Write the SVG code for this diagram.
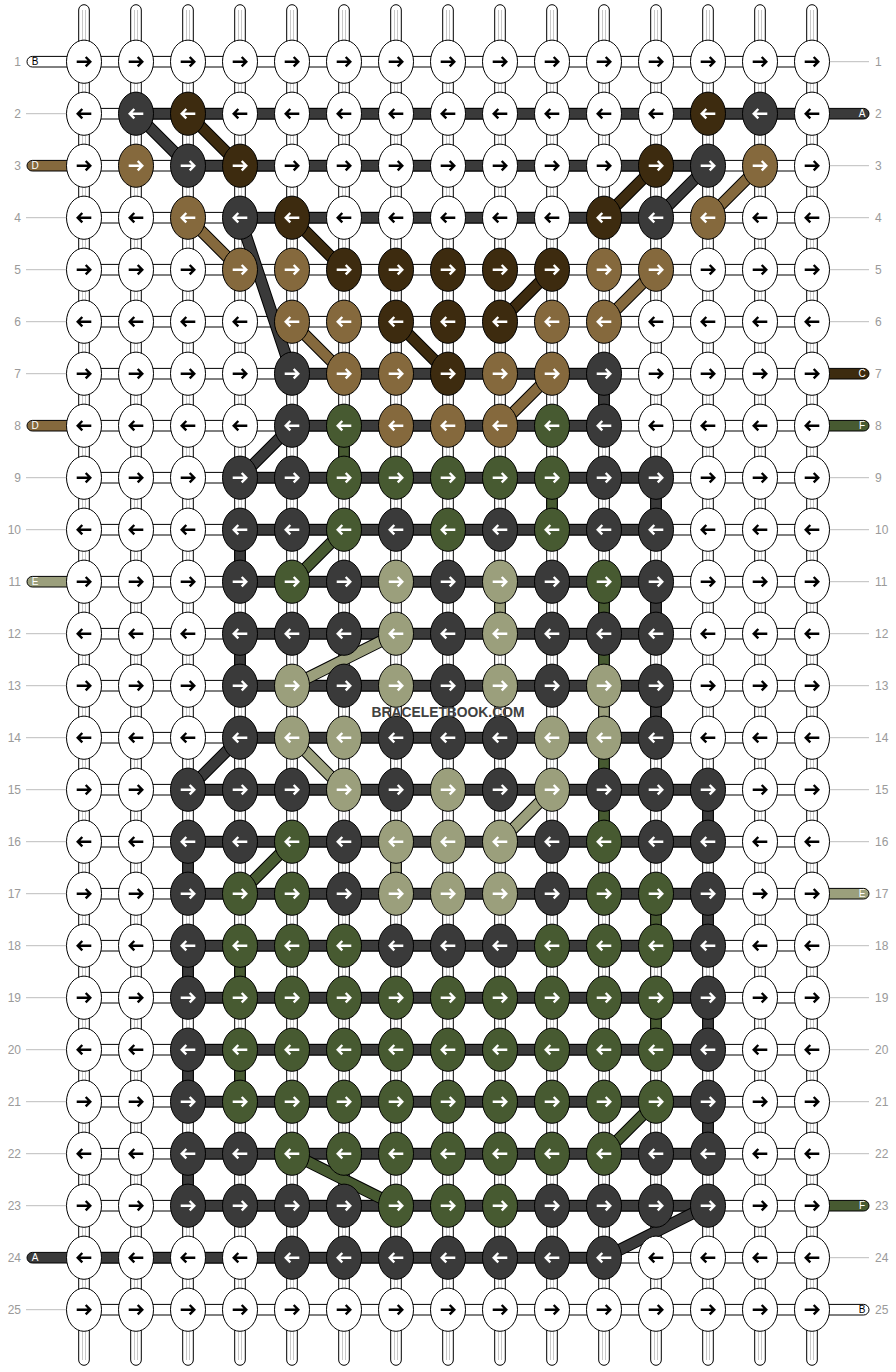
<svg xmlns="http://www.w3.org/2000/svg" xmlns:xlink="http://www.w3.org/1999/xlink" width="896" height="1372" viewBox="0 0 896 1372">
<style>
.e{stroke:#000;stroke-width:1}
.W{fill:#fff}.K{fill:#3a3a3a}.N{fill:#3d2b0f}.T{fill:#85693d}.G{fill:#475a31}.L{fill:#9b9f7c}
.ab{stroke:#000;stroke-width:2.4;fill:none}
.aw{stroke:#fff;stroke-width:2.4;fill:none}
.hw{fill:#fff;stroke:#000;stroke-width:1}
.hk{fill:#3a3a3a;stroke:#000;stroke-width:1}
.dO{stroke:#000;stroke-width:12;fill:none}
.dK{stroke:#3a3a3a;stroke-width:10;fill:none}
.dN{stroke:#3d2b0f;stroke-width:10;fill:none}
.dT{stroke:#85693d;stroke-width:10;fill:none}
.dG{stroke:#475a31;stroke-width:10;fill:none}
.dL{stroke:#9b9f7c;stroke-width:10;fill:none}
.num{font-family:"Liberation Sans",Arial,sans-serif;font-size:12px;fill:#9a9a9a}
.lt{font-family:"Liberation Sans",Arial,sans-serif;font-size:10px;text-anchor:middle}
.gl{stroke:#bdbdbd;stroke-width:1;fill:none}
</style>
<defs>
<path id="ar" d="M-7.3,0H6.3M1.7,-4.7L6.3,0L1.7,4.7"/>
<path id="al" d="M7.3,0H-6.3M-1.7,-4.7L-6.3,0L-1.7,4.7"/>
<g id="vc"><rect x="-5.3" y="4.7" width="10.6" height="1360.6" rx="5.3" fill="#fff" stroke="#000"/><path d="M-1.5,10V1360M1.5,10V1360" stroke="#c8c8c8" fill="none"/></g>
<g id="Wr"><ellipse rx="17.5" ry="21.6" class="e W"/><use href="#ar" class="ab"/></g>
<g id="Wl"><ellipse rx="17.5" ry="21.6" class="e W"/><use href="#al" class="ab"/></g>
<g id="Kr"><ellipse rx="17.5" ry="21.6" class="e K"/><use href="#ar" class="aw"/></g>
<g id="Kl"><ellipse rx="17.5" ry="21.6" class="e K"/><use href="#al" class="aw"/></g>
<g id="Nr"><ellipse rx="17.5" ry="21.6" class="e N"/><use href="#ar" class="aw"/></g>
<g id="Nl"><ellipse rx="17.5" ry="21.6" class="e N"/><use href="#al" class="aw"/></g>
<g id="Tr"><ellipse rx="17.5" ry="21.6" class="e T"/><use href="#ar" class="aw"/></g>
<g id="Tl"><ellipse rx="17.5" ry="21.6" class="e T"/><use href="#al" class="aw"/></g>
<g id="Gr"><ellipse rx="17.5" ry="21.6" class="e G"/><use href="#ar" class="aw"/></g>
<g id="Gl"><ellipse rx="17.5" ry="21.6" class="e G"/><use href="#al" class="aw"/></g>
<g id="Lr"><ellipse rx="17.5" ry="21.6" class="e L"/><use href="#ar" class="aw"/></g>
<g id="Ll"><ellipse rx="17.5" ry="21.6" class="e L"/><use href="#al" class="aw"/></g>
</defs>
<rect width="896" height="1372" fill="#fff"/>
<g id="labels">
<path class="gl" d="M26,113.7H66M26,217.7H66M26,269.7H66M26,321.7H66M26,373.7H66M26,477.7H66M26,529.7H66M26,633.7H66M26,685.7H66M26,737.7H66M26,789.7H66M26,841.7H66M26,893.7H66M26,945.7H66M26,997.7H66M26,1049.7H66M26,1101.7H66M26,1153.7H66M26,1205.7H66M26,1309.7H66"/>
<path class="gl" d="M830,61.7H869M830,165.7H869M830,217.7H869M830,269.7H869M830,321.7H869M830,477.7H869M830,529.7H869M830,581.7H869M830,633.7H869M830,685.7H869M830,737.7H869M830,789.7H869M830,841.7H869M830,945.7H869M830,997.7H869M830,1049.7H869M830,1101.7H869M830,1153.7H869M830,1257.7H869"/>
<g class="num" text-anchor="end">
<text x="21" y="66">1</text><text x="21" y="118">2</text><text x="21" y="170">3</text><text x="21" y="222">4</text><text x="21" y="274">5</text><text x="21" y="326">6</text><text x="21" y="378">7</text><text x="21" y="430">8</text><text x="21" y="482">9</text><text x="21" y="534">10</text><text x="21" y="586">11</text><text x="21" y="638">12</text><text x="21" y="690">13</text><text x="21" y="742">14</text><text x="21" y="794">15</text><text x="21" y="846">16</text><text x="21" y="898">17</text><text x="21" y="950">18</text><text x="21" y="1002">19</text><text x="21" y="1054">20</text><text x="21" y="1106">21</text><text x="21" y="1158">22</text><text x="21" y="1210">23</text><text x="21" y="1262">24</text><text x="21" y="1314">25</text>
</g>
<g class="num">
<text x="875" y="66">1</text><text x="875" y="118">2</text><text x="875" y="170">3</text><text x="875" y="222">4</text><text x="875" y="274">5</text><text x="875" y="326">6</text><text x="875" y="378">7</text><text x="875" y="430">8</text><text x="875" y="482">9</text><text x="875" y="534">10</text><text x="875" y="586">11</text><text x="875" y="638">12</text><text x="875" y="690">13</text><text x="875" y="742">14</text><text x="875" y="794">15</text><text x="875" y="846">16</text><text x="875" y="898">17</text><text x="875" y="950">18</text><text x="875" y="1002">19</text><text x="875" y="1054">20</text><text x="875" y="1106">21</text><text x="875" y="1158">22</text><text x="875" y="1210">23</text><text x="875" y="1262">24</text><text x="875" y="1314">25</text>
</g>
</g>
<g id="connectors">
<g id="verticals">
<use href="#vc" x="84"/><use href="#vc" x="136"/><use href="#vc" x="188"/><use href="#vc" x="240"/><use href="#vc" x="292"/><use href="#vc" x="344"/><use href="#vc" x="396"/><use href="#vc" x="448"/><use href="#vc" x="500"/><use href="#vc" x="552"/><use href="#vc" x="604"/><use href="#vc" x="656"/><use href="#vc" x="708"/><use href="#vc" x="760"/><use href="#vc" x="812"/>
</g>
<g id="stubs">
<rect x="27" y="56.4" width="60" height="10.6" rx="5.3" class="e W"/>
<rect x="27" y="160.4" width="60" height="10.6" rx="5.3" class="e T"/>
<rect x="27" y="420.4" width="60" height="10.6" rx="5.3" class="e T"/>
<rect x="27" y="576.4" width="60" height="10.6" rx="5.3" class="e L"/>
<rect x="27" y="1252.4" width="60" height="10.6" rx="5.3" class="e K"/>
<rect x="809" y="108.4" width="60" height="10.6" rx="5.3" class="e K"/>
<rect x="809" y="368.4" width="60" height="10.6" rx="5.3" class="e N"/>
<rect x="809" y="420.4" width="60" height="10.6" rx="5.3" class="e G"/>
<rect x="809" y="888.4" width="60" height="10.6" rx="5.3" class="e L"/>
<rect x="809" y="1200.4" width="60" height="10.6" rx="5.3" class="e G"/>
<rect x="809" y="1304.4" width="60" height="10.6" rx="5.3" class="e W"/>
<text class="lt" x="35" y="65.3" fill="#000">B</text>
<text class="lt" x="35" y="169.3" fill="#fff">D</text>
<text class="lt" x="35" y="429.3" fill="#fff">D</text>
<text class="lt" x="35" y="585.3" fill="#fff">E</text>
<text class="lt" x="35" y="1261.3" fill="#fff">A</text>
<text class="lt" x="862" y="117.3" fill="#fff">A</text>
<text class="lt" x="862" y="377.3" fill="#fff">C</text>
<text class="lt" x="862" y="429.3" fill="#fff">F</text>
<text class="lt" x="862" y="897.3" fill="#fff">E</text>
<text class="lt" x="862" y="1209.3" fill="#fff">F</text>
<text class="lt" x="862" y="1313.3" fill="#000">B</text>
</g>
<path id="horiz-white" class="hw" d="M84,56.4h728v10.6h-728zM84,108.4h728v10.6h-728zM84,160.4h728v10.6h-728zM84,212.4h728v10.6h-728zM84,264.4h728v10.6h-728zM84,316.4h728v10.6h-728zM84,368.4h728v10.6h-728zM84,420.4h728v10.6h-728zM84,472.4h728v10.6h-728zM84,524.4h728v10.6h-728zM84,576.4h728v10.6h-728zM84,628.4h728v10.6h-728zM84,680.4h728v10.6h-728zM84,732.4h728v10.6h-728zM84,784.4h728v10.6h-728zM84,836.4h728v10.6h-728zM84,888.4h728v10.6h-728zM84,940.4h728v10.6h-728zM84,992.4h728v10.6h-728zM84,1044.4h728v10.6h-728zM84,1096.4h728v10.6h-728zM84,1148.4h728v10.6h-728zM84,1200.4h728v10.6h-728zM84,1252.4h728v10.6h-728zM84,1304.4h728v10.6h-728z"/>
<path id="horiz-dark" class="hk" d="M136,108.4h676v10.6h-676zM188,160.4h520v10.6h-520zM240,212.4h416v10.6h-416zM292,368.4h312v10.6h-312zM292,420.4h312v10.6h-312zM240,472.4h416v10.6h-416zM240,524.4h416v10.6h-416zM240,576.4h416v10.6h-416zM240,628.4h416v10.6h-416zM240,680.4h416v10.6h-416zM240,732.4h416v10.6h-416zM188,784.4h520v10.6h-520zM188,836.4h520v10.6h-520zM188,888.4h520v10.6h-520zM188,940.4h520v10.6h-520zM188,992.4h520v10.6h-520zM188,1044.4h520v10.6h-520zM188,1096.4h520v10.6h-520zM188,1148.4h520v10.6h-520zM188,1200.4h520v10.6h-520zM84,1252.4h520v10.6h-520z"/>
<path id="vert-dark" class="e K" d="M598.7,385.7h10.6v28h-10.6zM650.7,489.7h10.6v28h-10.6zM234.7,541.7h10.6v28h-10.6zM650.7,593.7h10.6v28h-10.6zM234.7,645.7h10.6v28h-10.6zM650.7,697.7h10.6v28h-10.6zM702.7,801.7h10.6v28h-10.6zM182.7,853.7h10.6v28h-10.6zM702.7,905.7h10.6v28h-10.6zM182.7,957.7h10.6v28h-10.6zM702.7,1009.7h10.6v28h-10.6zM182.7,1061.7h10.6v28h-10.6zM702.7,1113.7h10.6v28h-10.6zM182.7,1165.7h10.6v28h-10.6z"/>
<path id="vert-green" class="e G" d="M338.7,437.7h10.6v28h-10.6zM546.7,489.7h10.6v28h-10.6zM598.7,593.7h10.6v28h-10.6zM598.7,645.7h10.6v28h-10.6zM598.7,749.7h10.6v28h-10.6zM598.7,801.7h10.6v28h-10.6zM650.7,905.7h10.6v28h-10.6zM234.7,957.7h10.6v28h-10.6zM650.7,1009.7h10.6v28h-10.6zM234.7,1061.7h10.6v28h-10.6z"/>
<path id="vert-olive" class="e L" d="M494.7,593.7h10.6v28h-10.6zM598.7,697.7h10.6v28h-10.6zM390.7,853.7h10.6v28h-10.6z"/>
<g id="diagonals">
<path class="dO" d="M136,113.7L188,165.7M708,165.7L656,217.7M240,217.7L292,373.7M292,425.7L240,477.7M240,737.7L188,789.7M604,1257.7L708,1205.7M188,113.7L240,165.7M656,165.7L604,217.7M292,217.7L344,269.7M396,321.7L448,373.7M552,269.7L500,321.7M760,165.7L708,217.7M188,217.7L240,269.7M292,321.7L344,373.7M656,269.7L604,321.7M552,373.7L500,425.7M344,529.7L292,581.7M292,841.7L240,893.7M656,1101.7L604,1153.7M292,1153.7L396,1205.7M396,633.7L292,685.7M292,737.7L344,789.7M552,789.7L500,841.7"/>
<path class="dK" d="M136,113.7L188,165.7M708,165.7L656,217.7M240,217.7L292,373.7M292,425.7L240,477.7M240,737.7L188,789.7M604,1257.7L708,1205.7"/>
<path class="dN" d="M188,113.7L240,165.7M656,165.7L604,217.7M292,217.7L344,269.7M396,321.7L448,373.7M552,269.7L500,321.7"/>
<path class="dT" d="M760,165.7L708,217.7M188,217.7L240,269.7M292,321.7L344,373.7M656,269.7L604,321.7M552,373.7L500,425.7"/>
<path class="dG" d="M344,529.7L292,581.7M292,841.7L240,893.7M656,1101.7L604,1153.7M292,1153.7L396,1205.7"/>
<path class="dL" d="M396,633.7L292,685.7M292,737.7L344,789.7M552,789.7L500,841.7"/>
</g>
</g>
<g id="nodes">
<g id="row1" transform="translate(0,61.7)">
<g id="r1c1"><use href="#Wr" x="84"/></g><g id="r1c2"><use href="#Wr" x="136"/></g><g id="r1c3"><use href="#Wr" x="188"/></g><g id="r1c4"><use href="#Wr" x="240"/></g><g id="r1c5"><use href="#Wr" x="292"/></g><g id="r1c6"><use href="#Wr" x="344"/></g><g id="r1c7"><use href="#Wr" x="396"/></g><g id="r1c8"><use href="#Wr" x="448"/></g><g id="r1c9"><use href="#Wr" x="500"/></g><g id="r1c10"><use href="#Wr" x="552"/></g><g id="r1c11"><use href="#Wr" x="604"/></g><g id="r1c12"><use href="#Wr" x="656"/></g><g id="r1c13"><use href="#Wr" x="708"/></g><g id="r1c14"><use href="#Wr" x="760"/></g><g id="r1c15"><use href="#Wr" x="812"/></g>
</g>
<g id="row2" transform="translate(0,113.7)">
<g id="r2c1"><use href="#Wl" x="84"/></g><g id="r2c2"><use href="#Kl" x="136"/></g><g id="r2c3"><use href="#Nl" x="188"/></g><g id="r2c4"><use href="#Wl" x="240"/></g><g id="r2c5"><use href="#Wl" x="292"/></g><g id="r2c6"><use href="#Wl" x="344"/></g><g id="r2c7"><use href="#Wl" x="396"/></g><g id="r2c8"><use href="#Wl" x="448"/></g><g id="r2c9"><use href="#Wl" x="500"/></g><g id="r2c10"><use href="#Wl" x="552"/></g><g id="r2c11"><use href="#Wl" x="604"/></g><g id="r2c12"><use href="#Wl" x="656"/></g><g id="r2c13"><use href="#Nl" x="708"/></g><g id="r2c14"><use href="#Kl" x="760"/></g><g id="r2c15"><use href="#Wl" x="812"/></g>
</g>
<g id="row3" transform="translate(0,165.7)">
<g id="r3c1"><use href="#Wr" x="84"/></g><g id="r3c2"><use href="#Tr" x="136"/></g><g id="r3c3"><use href="#Kr" x="188"/></g><g id="r3c4"><use href="#Nr" x="240"/></g><g id="r3c5"><use href="#Wr" x="292"/></g><g id="r3c6"><use href="#Wr" x="344"/></g><g id="r3c7"><use href="#Wr" x="396"/></g><g id="r3c8"><use href="#Wr" x="448"/></g><g id="r3c9"><use href="#Wr" x="500"/></g><g id="r3c10"><use href="#Wr" x="552"/></g><g id="r3c11"><use href="#Wr" x="604"/></g><g id="r3c12"><use href="#Nr" x="656"/></g><g id="r3c13"><use href="#Kr" x="708"/></g><g id="r3c14"><use href="#Tr" x="760"/></g><g id="r3c15"><use href="#Wr" x="812"/></g>
</g>
<g id="row4" transform="translate(0,217.7)">
<g id="r4c1"><use href="#Wl" x="84"/></g><g id="r4c2"><use href="#Wl" x="136"/></g><g id="r4c3"><use href="#Tl" x="188"/></g><g id="r4c4"><use href="#Kl" x="240"/></g><g id="r4c5"><use href="#Nl" x="292"/></g><g id="r4c6"><use href="#Wl" x="344"/></g><g id="r4c7"><use href="#Wl" x="396"/></g><g id="r4c8"><use href="#Wl" x="448"/></g><g id="r4c9"><use href="#Wl" x="500"/></g><g id="r4c10"><use href="#Wl" x="552"/></g><g id="r4c11"><use href="#Nl" x="604"/></g><g id="r4c12"><use href="#Kl" x="656"/></g><g id="r4c13"><use href="#Tl" x="708"/></g><g id="r4c14"><use href="#Wl" x="760"/></g><g id="r4c15"><use href="#Wl" x="812"/></g>
</g>
<g id="row5" transform="translate(0,269.7)">
<g id="r5c1"><use href="#Wr" x="84"/></g><g id="r5c2"><use href="#Wr" x="136"/></g><g id="r5c3"><use href="#Wr" x="188"/></g><g id="r5c4"><use href="#Tr" x="240"/></g><g id="r5c5"><use href="#Tr" x="292"/></g><g id="r5c6"><use href="#Nr" x="344"/></g><g id="r5c7"><use href="#Nr" x="396"/></g><g id="r5c8"><use href="#Nr" x="448"/></g><g id="r5c9"><use href="#Nr" x="500"/></g><g id="r5c10"><use href="#Nr" x="552"/></g><g id="r5c11"><use href="#Tr" x="604"/></g><g id="r5c12"><use href="#Tr" x="656"/></g><g id="r5c13"><use href="#Wr" x="708"/></g><g id="r5c14"><use href="#Wr" x="760"/></g><g id="r5c15"><use href="#Wr" x="812"/></g>
</g>
<g id="row6" transform="translate(0,321.7)">
<g id="r6c1"><use href="#Wl" x="84"/></g><g id="r6c2"><use href="#Wl" x="136"/></g><g id="r6c3"><use href="#Wl" x="188"/></g><g id="r6c4"><use href="#Wl" x="240"/></g><g id="r6c5"><use href="#Tl" x="292"/></g><g id="r6c6"><use href="#Tl" x="344"/></g><g id="r6c7"><use href="#Nl" x="396"/></g><g id="r6c8"><use href="#Nl" x="448"/></g><g id="r6c9"><use href="#Nl" x="500"/></g><g id="r6c10"><use href="#Tl" x="552"/></g><g id="r6c11"><use href="#Tl" x="604"/></g><g id="r6c12"><use href="#Wl" x="656"/></g><g id="r6c13"><use href="#Wl" x="708"/></g><g id="r6c14"><use href="#Wl" x="760"/></g><g id="r6c15"><use href="#Wl" x="812"/></g>
</g>
<g id="row7" transform="translate(0,373.7)">
<g id="r7c1"><use href="#Wr" x="84"/></g><g id="r7c2"><use href="#Wr" x="136"/></g><g id="r7c3"><use href="#Wr" x="188"/></g><g id="r7c4"><use href="#Wr" x="240"/></g><g id="r7c5"><use href="#Kr" x="292"/></g><g id="r7c6"><use href="#Tr" x="344"/></g><g id="r7c7"><use href="#Tr" x="396"/></g><g id="r7c8"><use href="#Nr" x="448"/></g><g id="r7c9"><use href="#Tr" x="500"/></g><g id="r7c10"><use href="#Tr" x="552"/></g><g id="r7c11"><use href="#Kr" x="604"/></g><g id="r7c12"><use href="#Wr" x="656"/></g><g id="r7c13"><use href="#Wr" x="708"/></g><g id="r7c14"><use href="#Wr" x="760"/></g><g id="r7c15"><use href="#Wr" x="812"/></g>
</g>
<g id="row8" transform="translate(0,425.7)">
<g id="r8c1"><use href="#Wl" x="84"/></g><g id="r8c2"><use href="#Wl" x="136"/></g><g id="r8c3"><use href="#Wl" x="188"/></g><g id="r8c4"><use href="#Wl" x="240"/></g><g id="r8c5"><use href="#Kl" x="292"/></g><g id="r8c6"><use href="#Gl" x="344"/></g><g id="r8c7"><use href="#Tl" x="396"/></g><g id="r8c8"><use href="#Tl" x="448"/></g><g id="r8c9"><use href="#Tl" x="500"/></g><g id="r8c10"><use href="#Gl" x="552"/></g><g id="r8c11"><use href="#Kl" x="604"/></g><g id="r8c12"><use href="#Wl" x="656"/></g><g id="r8c13"><use href="#Wl" x="708"/></g><g id="r8c14"><use href="#Wl" x="760"/></g><g id="r8c15"><use href="#Wl" x="812"/></g>
</g>
<g id="row9" transform="translate(0,477.7)">
<g id="r9c1"><use href="#Wr" x="84"/></g><g id="r9c2"><use href="#Wr" x="136"/></g><g id="r9c3"><use href="#Wr" x="188"/></g><g id="r9c4"><use href="#Kr" x="240"/></g><g id="r9c5"><use href="#Kr" x="292"/></g><g id="r9c6"><use href="#Gr" x="344"/></g><g id="r9c7"><use href="#Gr" x="396"/></g><g id="r9c8"><use href="#Gr" x="448"/></g><g id="r9c9"><use href="#Gr" x="500"/></g><g id="r9c10"><use href="#Gr" x="552"/></g><g id="r9c11"><use href="#Kr" x="604"/></g><g id="r9c12"><use href="#Kr" x="656"/></g><g id="r9c13"><use href="#Wr" x="708"/></g><g id="r9c14"><use href="#Wr" x="760"/></g><g id="r9c15"><use href="#Wr" x="812"/></g>
</g>
<g id="row10" transform="translate(0,529.7)">
<g id="r10c1"><use href="#Wl" x="84"/></g><g id="r10c2"><use href="#Wl" x="136"/></g><g id="r10c3"><use href="#Wl" x="188"/></g><g id="r10c4"><use href="#Kl" x="240"/></g><g id="r10c5"><use href="#Kl" x="292"/></g><g id="r10c6"><use href="#Gl" x="344"/></g><g id="r10c7"><use href="#Kl" x="396"/></g><g id="r10c8"><use href="#Gl" x="448"/></g><g id="r10c9"><use href="#Kl" x="500"/></g><g id="r10c10"><use href="#Gl" x="552"/></g><g id="r10c11"><use href="#Kl" x="604"/></g><g id="r10c12"><use href="#Kl" x="656"/></g><g id="r10c13"><use href="#Wl" x="708"/></g><g id="r10c14"><use href="#Wl" x="760"/></g><g id="r10c15"><use href="#Wl" x="812"/></g>
</g>
<g id="row11" transform="translate(0,581.7)">
<g id="r11c1"><use href="#Wr" x="84"/></g><g id="r11c2"><use href="#Wr" x="136"/></g><g id="r11c3"><use href="#Wr" x="188"/></g><g id="r11c4"><use href="#Kr" x="240"/></g><g id="r11c5"><use href="#Gr" x="292"/></g><g id="r11c6"><use href="#Kr" x="344"/></g><g id="r11c7"><use href="#Lr" x="396"/></g><g id="r11c8"><use href="#Kr" x="448"/></g><g id="r11c9"><use href="#Lr" x="500"/></g><g id="r11c10"><use href="#Kr" x="552"/></g><g id="r11c11"><use href="#Gr" x="604"/></g><g id="r11c12"><use href="#Kr" x="656"/></g><g id="r11c13"><use href="#Wr" x="708"/></g><g id="r11c14"><use href="#Wr" x="760"/></g><g id="r11c15"><use href="#Wr" x="812"/></g>
</g>
<g id="row12" transform="translate(0,633.7)">
<g id="r12c1"><use href="#Wl" x="84"/></g><g id="r12c2"><use href="#Wl" x="136"/></g><g id="r12c3"><use href="#Wl" x="188"/></g><g id="r12c4"><use href="#Kl" x="240"/></g><g id="r12c5"><use href="#Kl" x="292"/></g><g id="r12c6"><use href="#Kl" x="344"/></g><g id="r12c7"><use href="#Ll" x="396"/></g><g id="r12c8"><use href="#Kl" x="448"/></g><g id="r12c9"><use href="#Ll" x="500"/></g><g id="r12c10"><use href="#Kl" x="552"/></g><g id="r12c11"><use href="#Kl" x="604"/></g><g id="r12c12"><use href="#Kl" x="656"/></g><g id="r12c13"><use href="#Wl" x="708"/></g><g id="r12c14"><use href="#Wl" x="760"/></g><g id="r12c15"><use href="#Wl" x="812"/></g>
</g>
<g id="row13" transform="translate(0,685.7)">
<g id="r13c1"><use href="#Wr" x="84"/></g><g id="r13c2"><use href="#Wr" x="136"/></g><g id="r13c3"><use href="#Wr" x="188"/></g><g id="r13c4"><use href="#Kr" x="240"/></g><g id="r13c5"><use href="#Lr" x="292"/></g><g id="r13c6"><use href="#Kr" x="344"/></g><g id="r13c7"><use href="#Lr" x="396"/></g><g id="r13c8"><use href="#Kr" x="448"/></g><g id="r13c9"><use href="#Lr" x="500"/></g><g id="r13c10"><use href="#Kr" x="552"/></g><g id="r13c11"><use href="#Lr" x="604"/></g><g id="r13c12"><use href="#Kr" x="656"/></g><g id="r13c13"><use href="#Wr" x="708"/></g><g id="r13c14"><use href="#Wr" x="760"/></g><g id="r13c15"><use href="#Wr" x="812"/></g>
</g>
<g id="row14" transform="translate(0,737.7)">
<g id="r14c1"><use href="#Wl" x="84"/></g><g id="r14c2"><use href="#Wl" x="136"/></g><g id="r14c3"><use href="#Wl" x="188"/></g><g id="r14c4"><use href="#Kl" x="240"/></g><g id="r14c5"><use href="#Ll" x="292"/></g><g id="r14c6"><use href="#Ll" x="344"/></g><g id="r14c7"><use href="#Kl" x="396"/></g><g id="r14c8"><use href="#Kl" x="448"/></g><g id="r14c9"><use href="#Kl" x="500"/></g><g id="r14c10"><use href="#Ll" x="552"/></g><g id="r14c11"><use href="#Ll" x="604"/></g><g id="r14c12"><use href="#Kl" x="656"/></g><g id="r14c13"><use href="#Wl" x="708"/></g><g id="r14c14"><use href="#Wl" x="760"/></g><g id="r14c15"><use href="#Wl" x="812"/></g>
</g>
<g id="row15" transform="translate(0,789.7)">
<g id="r15c1"><use href="#Wr" x="84"/></g><g id="r15c2"><use href="#Wr" x="136"/></g><g id="r15c3"><use href="#Kr" x="188"/></g><g id="r15c4"><use href="#Kr" x="240"/></g><g id="r15c5"><use href="#Kr" x="292"/></g><g id="r15c6"><use href="#Lr" x="344"/></g><g id="r15c7"><use href="#Kr" x="396"/></g><g id="r15c8"><use href="#Lr" x="448"/></g><g id="r15c9"><use href="#Kr" x="500"/></g><g id="r15c10"><use href="#Lr" x="552"/></g><g id="r15c11"><use href="#Kr" x="604"/></g><g id="r15c12"><use href="#Kr" x="656"/></g><g id="r15c13"><use href="#Kr" x="708"/></g><g id="r15c14"><use href="#Wr" x="760"/></g><g id="r15c15"><use href="#Wr" x="812"/></g>
</g>
<g id="row16" transform="translate(0,841.7)">
<g id="r16c1"><use href="#Wl" x="84"/></g><g id="r16c2"><use href="#Wl" x="136"/></g><g id="r16c3"><use href="#Kl" x="188"/></g><g id="r16c4"><use href="#Kl" x="240"/></g><g id="r16c5"><use href="#Gl" x="292"/></g><g id="r16c6"><use href="#Kl" x="344"/></g><g id="r16c7"><use href="#Ll" x="396"/></g><g id="r16c8"><use href="#Ll" x="448"/></g><g id="r16c9"><use href="#Ll" x="500"/></g><g id="r16c10"><use href="#Kl" x="552"/></g><g id="r16c11"><use href="#Gl" x="604"/></g><g id="r16c12"><use href="#Kl" x="656"/></g><g id="r16c13"><use href="#Kl" x="708"/></g><g id="r16c14"><use href="#Wl" x="760"/></g><g id="r16c15"><use href="#Wl" x="812"/></g>
</g>
<g id="row17" transform="translate(0,893.7)">
<g id="r17c1"><use href="#Wr" x="84"/></g><g id="r17c2"><use href="#Wr" x="136"/></g><g id="r17c3"><use href="#Kr" x="188"/></g><g id="r17c4"><use href="#Gr" x="240"/></g><g id="r17c5"><use href="#Gr" x="292"/></g><g id="r17c6"><use href="#Kr" x="344"/></g><g id="r17c7"><use href="#Lr" x="396"/></g><g id="r17c8"><use href="#Lr" x="448"/></g><g id="r17c9"><use href="#Lr" x="500"/></g><g id="r17c10"><use href="#Kr" x="552"/></g><g id="r17c11"><use href="#Gr" x="604"/></g><g id="r17c12"><use href="#Gr" x="656"/></g><g id="r17c13"><use href="#Kr" x="708"/></g><g id="r17c14"><use href="#Wr" x="760"/></g><g id="r17c15"><use href="#Wr" x="812"/></g>
</g>
<g id="row18" transform="translate(0,945.7)">
<g id="r18c1"><use href="#Wl" x="84"/></g><g id="r18c2"><use href="#Wl" x="136"/></g><g id="r18c3"><use href="#Kl" x="188"/></g><g id="r18c4"><use href="#Gl" x="240"/></g><g id="r18c5"><use href="#Gl" x="292"/></g><g id="r18c6"><use href="#Gl" x="344"/></g><g id="r18c7"><use href="#Kl" x="396"/></g><g id="r18c8"><use href="#Kl" x="448"/></g><g id="r18c9"><use href="#Kl" x="500"/></g><g id="r18c10"><use href="#Gl" x="552"/></g><g id="r18c11"><use href="#Gl" x="604"/></g><g id="r18c12"><use href="#Gl" x="656"/></g><g id="r18c13"><use href="#Kl" x="708"/></g><g id="r18c14"><use href="#Wl" x="760"/></g><g id="r18c15"><use href="#Wl" x="812"/></g>
</g>
<g id="row19" transform="translate(0,997.7)">
<g id="r19c1"><use href="#Wr" x="84"/></g><g id="r19c2"><use href="#Wr" x="136"/></g><g id="r19c3"><use href="#Kr" x="188"/></g><g id="r19c4"><use href="#Gr" x="240"/></g><g id="r19c5"><use href="#Gr" x="292"/></g><g id="r19c6"><use href="#Gr" x="344"/></g><g id="r19c7"><use href="#Gr" x="396"/></g><g id="r19c8"><use href="#Gr" x="448"/></g><g id="r19c9"><use href="#Gr" x="500"/></g><g id="r19c10"><use href="#Gr" x="552"/></g><g id="r19c11"><use href="#Gr" x="604"/></g><g id="r19c12"><use href="#Gr" x="656"/></g><g id="r19c13"><use href="#Kr" x="708"/></g><g id="r19c14"><use href="#Wr" x="760"/></g><g id="r19c15"><use href="#Wr" x="812"/></g>
</g>
<g id="row20" transform="translate(0,1049.7)">
<g id="r20c1"><use href="#Wl" x="84"/></g><g id="r20c2"><use href="#Wl" x="136"/></g><g id="r20c3"><use href="#Kl" x="188"/></g><g id="r20c4"><use href="#Gl" x="240"/></g><g id="r20c5"><use href="#Gl" x="292"/></g><g id="r20c6"><use href="#Gl" x="344"/></g><g id="r20c7"><use href="#Gl" x="396"/></g><g id="r20c8"><use href="#Gl" x="448"/></g><g id="r20c9"><use href="#Gl" x="500"/></g><g id="r20c10"><use href="#Gl" x="552"/></g><g id="r20c11"><use href="#Gl" x="604"/></g><g id="r20c12"><use href="#Gl" x="656"/></g><g id="r20c13"><use href="#Kl" x="708"/></g><g id="r20c14"><use href="#Wl" x="760"/></g><g id="r20c15"><use href="#Wl" x="812"/></g>
</g>
<g id="row21" transform="translate(0,1101.7)">
<g id="r21c1"><use href="#Wr" x="84"/></g><g id="r21c2"><use href="#Wr" x="136"/></g><g id="r21c3"><use href="#Kr" x="188"/></g><g id="r21c4"><use href="#Gr" x="240"/></g><g id="r21c5"><use href="#Gr" x="292"/></g><g id="r21c6"><use href="#Gr" x="344"/></g><g id="r21c7"><use href="#Gr" x="396"/></g><g id="r21c8"><use href="#Gr" x="448"/></g><g id="r21c9"><use href="#Gr" x="500"/></g><g id="r21c10"><use href="#Gr" x="552"/></g><g id="r21c11"><use href="#Gr" x="604"/></g><g id="r21c12"><use href="#Gr" x="656"/></g><g id="r21c13"><use href="#Kr" x="708"/></g><g id="r21c14"><use href="#Wr" x="760"/></g><g id="r21c15"><use href="#Wr" x="812"/></g>
</g>
<g id="row22" transform="translate(0,1153.7)">
<g id="r22c1"><use href="#Wl" x="84"/></g><g id="r22c2"><use href="#Wl" x="136"/></g><g id="r22c3"><use href="#Kl" x="188"/></g><g id="r22c4"><use href="#Kl" x="240"/></g><g id="r22c5"><use href="#Gl" x="292"/></g><g id="r22c6"><use href="#Gl" x="344"/></g><g id="r22c7"><use href="#Gl" x="396"/></g><g id="r22c8"><use href="#Gl" x="448"/></g><g id="r22c9"><use href="#Gl" x="500"/></g><g id="r22c10"><use href="#Gl" x="552"/></g><g id="r22c11"><use href="#Gl" x="604"/></g><g id="r22c12"><use href="#Kl" x="656"/></g><g id="r22c13"><use href="#Kl" x="708"/></g><g id="r22c14"><use href="#Wl" x="760"/></g><g id="r22c15"><use href="#Wl" x="812"/></g>
</g>
<g id="row23" transform="translate(0,1205.7)">
<g id="r23c1"><use href="#Wr" x="84"/></g><g id="r23c2"><use href="#Wr" x="136"/></g><g id="r23c3"><use href="#Kr" x="188"/></g><g id="r23c4"><use href="#Kr" x="240"/></g><g id="r23c5"><use href="#Kr" x="292"/></g><g id="r23c6"><use href="#Kr" x="344"/></g><g id="r23c7"><use href="#Gr" x="396"/></g><g id="r23c8"><use href="#Gr" x="448"/></g><g id="r23c9"><use href="#Gr" x="500"/></g><g id="r23c10"><use href="#Kr" x="552"/></g><g id="r23c11"><use href="#Kr" x="604"/></g><g id="r23c12"><use href="#Kr" x="656"/></g><g id="r23c13"><use href="#Kr" x="708"/></g><g id="r23c14"><use href="#Wr" x="760"/></g><g id="r23c15"><use href="#Wr" x="812"/></g>
</g>
<g id="row24" transform="translate(0,1257.7)">
<g id="r24c1"><use href="#Wl" x="84"/></g><g id="r24c2"><use href="#Wl" x="136"/></g><g id="r24c3"><use href="#Wl" x="188"/></g><g id="r24c4"><use href="#Wl" x="240"/></g><g id="r24c5"><use href="#Kl" x="292"/></g><g id="r24c6"><use href="#Kl" x="344"/></g><g id="r24c7"><use href="#Kl" x="396"/></g><g id="r24c8"><use href="#Kl" x="448"/></g><g id="r24c9"><use href="#Kl" x="500"/></g><g id="r24c10"><use href="#Kl" x="552"/></g><g id="r24c11"><use href="#Kl" x="604"/></g><g id="r24c12"><use href="#Wl" x="656"/></g><g id="r24c13"><use href="#Wl" x="708"/></g><g id="r24c14"><use href="#Wl" x="760"/></g><g id="r24c15"><use href="#Wl" x="812"/></g>
</g>
<g id="row25" transform="translate(0,1309.7)">
<g id="r25c1"><use href="#Wr" x="84"/></g><g id="r25c2"><use href="#Wr" x="136"/></g><g id="r25c3"><use href="#Wr" x="188"/></g><g id="r25c4"><use href="#Wr" x="240"/></g><g id="r25c5"><use href="#Wr" x="292"/></g><g id="r25c6"><use href="#Wr" x="344"/></g><g id="r25c7"><use href="#Wr" x="396"/></g><g id="r25c8"><use href="#Wr" x="448"/></g><g id="r25c9"><use href="#Wr" x="500"/></g><g id="r25c10"><use href="#Wr" x="552"/></g><g id="r25c11"><use href="#Wr" x="604"/></g><g id="r25c12"><use href="#Wr" x="656"/></g><g id="r25c13"><use href="#Wr" x="708"/></g><g id="r25c14"><use href="#Wr" x="760"/></g><g id="r25c15"><use href="#Wr" x="812"/></g>
</g>
</g>
<g id="watermark"><text x="371.5" y="717" font-family="Liberation Sans, Arial, sans-serif" font-weight="bold" font-size="14.5" fill="#404040" textLength="153" lengthAdjust="spacingAndGlyphs">BRACELETBOOK.COM</text></g>
</svg>
